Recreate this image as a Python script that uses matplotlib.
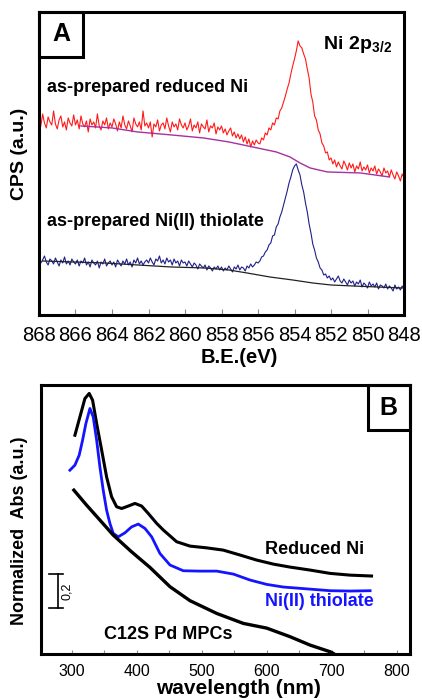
import numpy as np
import matplotlib
matplotlib.use('Agg')
import matplotlib.pyplot as plt
from matplotlib.patches import Rectangle

plt.rcParams['font.family'] = ['Liberation Sans', 'DejaVu Sans']
plt.rcParams['mathtext.fontset'] = 'custom'
plt.rcParams['mathtext.rm'] = 'Liberation Sans'
plt.rcParams['mathtext.bf'] = 'Liberation Sans:bold'

# ---- panel A : XPS Ni 2p3/2 ----
be = np.linspace(868.0, 848.0, 201)   # measurement grid, 0.1 eV steps

reduced_cps = [196, 189, 201, 192, 187, 198, 193, 190, 204, 191,
               186, 195, 199, 188, 193, 185, 197, 192, 189, 200,
               190, 195, 186, 199, 191, 188, 194, 183, 196, 190,
               193, 187, 201, 189, 185, 194, 190, 197, 186, 192,
               188, 196, 191, 184, 193, 187, 199, 190, 186, 194,
               189, 183, 197, 191, 188, 193, 185, 204, 189, 192,
               187, 193, 178, 191, 188, 195, 184, 190, 192, 186,
               197, 189, 183, 193, 188, 191, 185, 196, 190, 187,
               192, 185, 189, 196, 184, 190, 187, 193, 182, 191,
               188, 186, 195, 183, 189, 187, 192, 181, 188, 185,
               189, 182, 186, 180, 184, 187, 179, 183, 177, 181,
               176, 180, 173, 178, 171, 176, 168, 174, 170, 175,
               172, 171, 177, 175, 182, 180, 187, 185, 192, 190,
               197, 196, 204, 207, 213, 219, 226, 232, 241, 249,
               256, 264, 274, 269, 267, 261, 256, 246, 237, 221,
               213, 199, 195, 185, 181, 172, 169, 162, 163, 155,
               157, 151, 155, 148, 153, 149, 146, 154, 150, 145,
               152, 147, 151, 143, 149, 146, 153, 144, 148, 145,
               150, 142, 147, 144, 149, 141, 146, 143, 139, 147,
               142, 144, 138, 145, 140, 136, 143, 139, 134, 141,
               137]
reduced_bg_be = [865.7, 864.0, 862.6, 860.75, 859.0, 857.6, 856.3, 855.0,
                 854.25, 853.7, 853.15, 852.2, 850.4, 848.8]
reduced_bg = [189, 187, 183, 180, 177, 173, 168, 163, 158, 152, 147, 143, 142, 138]

thiolate_cps = [57, 52, 55, 59, 53, 50, 56, 54, 51, 57,
                53, 49, 55, 52, 58, 51, 54, 50, 56, 53,
                51, 55, 49, 54, 52, 57, 50, 53, 48, 55,
                52, 50, 54, 47, 53, 51, 56, 49, 52, 54,
                50, 53, 48, 55, 52, 49, 54, 51, 56, 50,
                53, 48, 55, 52, 57, 51, 54, 50, 53, 55,
                52, 57, 53, 50, 56, 54, 59, 52, 55, 51,
                57, 53, 55, 50, 56, 52, 54, 49, 55, 52,
                53, 49, 54, 51, 48, 52, 50, 46, 51, 49,
                47, 50, 45, 49, 47, 44, 48, 46, 49, 45,
                48, 44, 47, 45, 49, 46, 43, 48, 46, 50,
                45, 48, 47, 44, 49, 47, 51, 48, 50, 53,
                52, 54, 58, 59, 63, 65, 70, 72, 79, 80,
                88, 91, 98, 103, 110, 117, 124, 132, 138, 145,
                149, 151, 145, 140, 130, 123, 112, 103, 91, 82,
                71, 65, 57, 53, 47, 45, 40, 41, 37, 39,
                35, 37, 33, 36, 39, 34, 32, 36, 33, 30,
                35, 32, 34, 29, 33, 31, 35, 28, 32, 30,
                27, 33, 29, 31, 28, 32, 26, 30, 29, 27,
                31, 26, 29, 27, 24, 30, 26, 28, 25, 29,
                26]
thiolate_bg_be = [867.8, 864.4, 862.6, 860.75, 858.9, 857.6, 856.6, 855.35,
                  854.1, 853.0, 852.0, 850.8, 848.1]
thiolate_bg = [54, 52, 50, 48, 47, 45, 42, 38, 35, 32, 30, 29, 27]

be_ticks = [868, 866, 864, 862, 860, 858, 856, 854, 852, 850, 848]

# ---- panel B : UV-vis ----
red_nm = [305.1, 312.8, 320.5, 327.1, 332.3, 338.5, 346.2, 353.8, 361.5, 369.2,
          376.9, 387.1, 397.4, 407.7, 417.8, 430.8, 441.0, 461.5, 482.0, 507.7,
          533.2, 558.9, 584.6, 610.2, 635.8, 666.6, 697.4, 728.2, 761.1]
red_abs = [1.251, 1.356, 1.461, 1.490, 1.451, 1.318, 1.166, 1.013, 0.899, 0.842,
           0.832, 0.846, 0.861, 0.846, 0.804, 0.747, 0.709, 0.642, 0.617, 0.607,
           0.594, 0.566, 0.537, 0.514, 0.497, 0.480, 0.461, 0.451, 0.446]

thi_nm = [297.4, 305.1, 311.7, 316.9, 322.0, 328.2, 333.2, 338.5, 343.5, 348.6,
          353.8, 358.9, 364.0, 371.7, 382.0, 392.3, 402.5, 412.8, 423.1, 435.8,
          451.2, 471.7, 497.4, 523.1, 548.7, 574.3, 600.0, 625.5, 666.6, 697.4,
          728.2, 758.9]
thi_abs = [1.051, 1.080, 1.137, 1.223, 1.318, 1.404, 1.356, 1.223, 1.070, 0.937,
           0.823, 0.747, 0.690, 0.670, 0.693, 0.727, 0.743, 0.718, 0.670, 0.575,
           0.509, 0.476, 0.474, 0.474, 0.457, 0.423, 0.398, 0.383, 0.371, 0.362,
           0.360, 0.362]

pd_nm = [303.5, 323.1, 343.5, 364.0, 392.0, 420.5, 451.2, 482.0, 523.1, 564.0,
         600.0, 635.8, 666.6, 697.4, 702.0]
pd_abs = [0.937, 0.851, 0.766, 0.680, 0.585, 0.495, 0.385, 0.305, 0.232, 0.175,
          0.148, 0.099, 0.051, 0.013, 0.004]

nm_ticks = [300, 400, 500, 600, 700, 800]

fig = plt.figure(figsize=(4.22, 7.0), dpi=100)

# panel A
ax1 = fig.add_axes([0.0924, 0.55, 0.865, 0.433])
ax1.plot(be, reduced_cps, color='#ff1a1a', lw=0.8)
ax1.plot(reduced_bg_be, reduced_bg, color='#a8309f', lw=1.0)
ax1.plot(be, thiolate_cps, color='#1f1f8a', lw=0.8)
ax1.plot(thiolate_bg_be, thiolate_bg, color='#222222', lw=0.9)
ax1.set_xlim(868, 848)
ax1.set_ylim(0, 303)
ax1.set_xticks(be_ticks)
ax1.set_xticklabels([str(t) for t in be_ticks], fontsize=14.5)
ax1.set_yticks([])
ax1.tick_params(axis='x', direction='in', length=4, width=0.8, color='#888888', pad=8)
for s in ax1.spines.values():
    s.set_linewidth(2.2)
fig.text(0.566, 0.4886, 'B.E.(eV)', fontsize=14.5, fontweight='bold',
         ha='center', va='center')
fig.text(0.047, 0.78, 'CPS (a.u.)', fontsize=14, fontweight='bold',
         rotation=90, ha='center', va='center')
ax1.text(0.022, 0.749, 'as-prepared reduced Ni', transform=ax1.transAxes,
         fontsize=13, fontweight='bold', va='center')
ax1.text(0.022, 0.31, 'as-prepared Ni(II) thiolate', transform=ax1.transAxes,
         fontsize=13, fontweight='bold', va='center')
ax1.text(0.778, 0.891, r'$\mathbf{Ni\ 2p_{3/2}}$', transform=ax1.transAxes,
         fontsize=14, va='center')
ax1.add_patch(Rectangle((0, 0.8515), 0.1205, 0.1485, transform=ax1.transAxes,
                        fill=False, lw=2.2, ec='black', clip_on=False))
ax1.text(0.06, 0.926, 'A', transform=ax1.transAxes, fontsize=18,
         fontweight='bold', ha='center', va='center')

# panel B
ax2 = fig.add_axes([0.0972, 0.0657, 0.874, 0.384])
ax2.plot(red_nm, red_abs, color='black', lw=2.2)
ax2.plot(thi_nm, thi_abs, color='#1414ff', lw=2.0)
ax2.plot(pd_nm, pd_abs, color='black', lw=2.4)
ax2.set_xlim(253, 820)
ax2.set_ylim(0, 1.537)
ax2.set_xticks(nm_ticks)
ax2.set_xticks([350, 450, 550, 650, 750], minor=True)
ax2.set_xticklabels([str(t) for t in nm_ticks], fontsize=11.5)
ax2.set_yticks([])
ax2.tick_params(axis='x', which='both', direction='in', length=3, width=0.8,
                color='#888888', pad=7)
for s in ax2.spines.values():
    s.set_linewidth(2.2)
fig.text(0.564, 0.0171, 'wavelength (nm)', fontsize=15, fontweight='bold',
         ha='center', va='center')
fig.text(0.047, 0.2417, 'Normalized  Abs (a.u.)', fontsize=13, fontweight='bold',
         rotation=90, ha='center', va='center')

# scale bar 0,2
ax2.plot([279.6, 279.6], [0.261, 0.457], color='black', lw=1.2)
ax2.plot([266, 287.5], [0.457, 0.457], color='black', lw=1.2)
ax2.plot([266, 287.5], [0.261, 0.261], color='black', lw=1.2)
ax2.text(293, 0.356, '0,2', rotation=90, fontsize=9, ha='center', va='center')

ax2.text(597, 0.599, 'Reduced Ni', fontsize=13, fontweight='bold', va='center')
ax2.text(597, 0.301, 'Ni(II) thiolate', fontsize=13, fontweight='bold',
         va='center', color='#1414ff')
ax2.text(350, 0.109, 'C12S Pd MPCs', fontsize=13, fontweight='bold', va='center')
ax2.add_patch(Rectangle((0.886, 0.833), 0.114, 0.167, transform=ax2.transAxes,
                        fill=False, lw=2.2, ec='black', clip_on=False))
ax2.text(0.943, 0.9165, 'B', transform=ax2.transAxes, fontsize=18,
         fontweight='bold', ha='center', va='center')

fig.savefig('out.png', dpi=100)
